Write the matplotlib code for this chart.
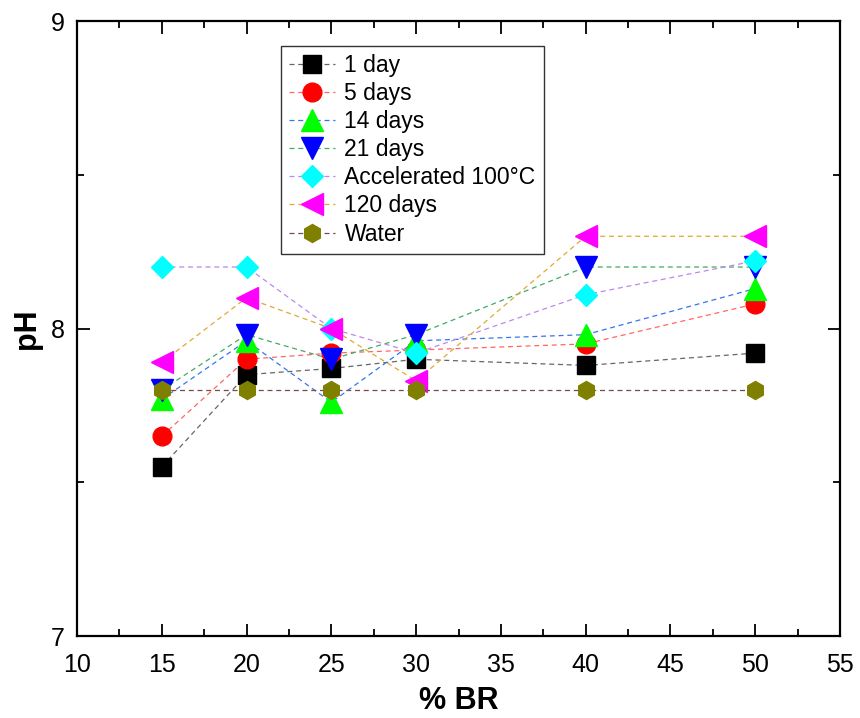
import numpy as np
import matplotlib
matplotlib.use('Agg')
import matplotlib.pyplot as plt
from matplotlib.ticker import MultipleLocator

plt.rcParams['font.family'] = ['Liberation Sans', 'DejaVu Sans']

# % BR levels
br = [15, 20, 25, 30, 40, 50]

# pH readings per curing condition
ph_1day = [7.55, 7.85, 7.87, 7.90, 7.88, 7.92]
ph_5days = [7.65, 7.90, 7.92, 7.93, 7.95, 8.08]
ph_14days = [7.77, 7.96, 7.76, 7.96, 7.98, 8.13]
ph_21days = [7.80, 7.98, 7.90, 7.98, 8.20, 8.20]
ph_acc = [8.20, 8.20, 8.00, 7.92, 8.11, 8.22]
ph_120days = [7.89, 8.10, 8.00, 7.83, 8.30, 8.30]
ph_water = [7.80, 7.80, 7.80, 7.80, 7.80, 7.80]

labels = ['1 day', '5 days', '14 days', '21 days', 'Accelerated 100°C', '120 days', 'Water']
series = [ph_1day, ph_5days, ph_14days, ph_21days, ph_acc, ph_120days, ph_water]
markers = ['s', 'o', '^', 'v', 'D', '<', 'h']
face = ['black', 'red', '#00ff00', 'blue', 'cyan', 'magenta', 'olive']
line_col = ['#666666', '#ff6666', '#3377ee', '#44aa66', '#bb88ee', '#ddaa33', '#7a4a4a']
msize = [12.5, 13.5, 16, 16, 11.5, 16, 13]

fig = plt.figure(figsize=(8.6, 7.18), dpi=100)
ax = fig.add_axes([0.0895, 0.1142, 0.8873, 0.8565])

for y, lab, m, fc, lc, ms in zip(series, labels, markers, face, line_col, msize):
    ax.plot(br, y, linestyle=(0, (4, 3)), linewidth=0.9, color=lc,
            marker=m, markersize=ms, markerfacecolor=fc, markeredgecolor=fc,
            label=lab)

ax.set_xlim(10, 55)
ax.set_ylim(7, 9)
ax.xaxis.set_major_locator(MultipleLocator(5))
ax.xaxis.set_minor_locator(MultipleLocator(2.5))
ax.yaxis.set_major_locator(MultipleLocator(1))
ax.yaxis.set_minor_locator(MultipleLocator(0.5))
ax.tick_params(which='both', direction='in', top=True, right=True, width=1.3)
ax.tick_params(which='major', length=9, labelsize=18)
ax.tick_params(which='minor', length=5)
ax.tick_params(axis='x', which='major', pad=12)
ax.tick_params(axis='y', which='major', pad=9)
for s in ax.spines.values():
    s.set_linewidth(1.6)

ax.set_xlabel('% BR', fontsize=22, fontweight='bold', labelpad=7)
ax.set_ylabel('pH', fontsize=22, fontweight='bold', labelpad=6)

leg = ax.legend(loc='upper left', bbox_to_anchor=(0.268, 0.959), fontsize=16.5,
                fancybox=False, framealpha=1, edgecolor='#333333',
                handlelength=2.0, labelspacing=0.22, borderpad=0.35,
                handletextpad=0.4, borderaxespad=0)
leg.get_frame().set_linewidth(1.0)

fig.savefig('out.png', dpi=100)
